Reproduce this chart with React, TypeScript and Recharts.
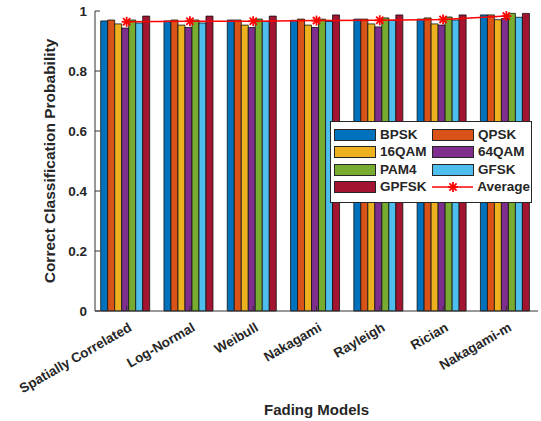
import React from "react";
import {
  Bar,
  ComposedChart,
  Legend,
  Line,
  XAxis,
  YAxis,
} from "recharts";

// fading models on the x axis
const categories = [
  "Spatially Correlated",
  "Log-Normal",
  "Weibull",
  "Nakagami",
  "Rayleigh",
  "Rician",
  "Nakagami-m",
];

// correct classification probability per modulation
const bpsk = [0.967, 0.967, 0.97, 0.969, 0.973, 0.973, 0.987];
const qpsk = [0.97, 0.97, 0.97, 0.973, 0.973, 0.977, 0.987];
const qam16 = [0.957, 0.953, 0.953, 0.953, 0.957, 0.957, 0.971];
const qam64 = [0.943, 0.945, 0.945, 0.945, 0.947, 0.953, 0.975];
const pam4 = [0.97, 0.97, 0.973, 0.973, 0.977, 0.98, 0.992];
const gfsk = [0.96, 0.96, 0.965, 0.965, 0.969, 0.97, 0.979];
const gpfsk = [0.983, 0.983, 0.983, 0.987, 0.987, 0.987, 0.992];
const average = [0.964, 0.966, 0.966, 0.968, 0.969, 0.972, 0.983];

const yTicks = [0, 0.2, 0.4, 0.6, 0.8, 1];

const series = [
  { key: "BPSK", values: bpsk, color: "#0072BD" },
  { key: "QPSK", values: qpsk, color: "#D95319" },
  { key: "16QAM", values: qam16, color: "#EDB120" },
  { key: "64QAM", values: qam64, color: "#7E2F8E" },
  { key: "PAM4", values: pam4, color: "#77AC30" },
  { key: "GFSK", values: gfsk, color: "#4DBEEE" },
  { key: "GPFSK", values: gpfsk, color: "#A2142F" },
];

const data = categories.map((name, i) => {
  const row: Record<string, string | number> = { name, Average: average[i] };
  series.forEach((s) => {
    row[s.key] = s.values[i];
  });
  return row;
});

const FONT = "'Liberation Sans', Arial, sans-serif";
const AXIS = "#333";
const TXT = "#262626";

const Star = ({ cx, cy, r = 5 }: { cx: number; cy: number; r?: number }) => {
  const d = r * 0.72;
  return (
    <g stroke="#ff0000" strokeWidth={1.8}>
      <line x1={cx - r} y1={cy} x2={cx + r} y2={cy} />
      <line x1={cx} y1={cy - r} x2={cx} y2={cy + r} />
      <line x1={cx - d} y1={cy - d} x2={cx + d} y2={cy + d} />
      <line x1={cx - d} y1={cy + d} x2={cx + d} y2={cy - d} />
    </g>
  );
};

const LeftTick = (props: any) => {
  const { x, y, payload } = props;
  return (
    <g>
      <line x1={x} y1={y} x2={x + 5} y2={y} stroke={AXIS} />
      <text
        x={x - 8}
        y={y}
        textAnchor="end"
        dominantBaseline="central"
        fontFamily={FONT}
        fontWeight="bold"
        fontSize={13.5}
        fill={TXT}
      >
        {payload.value}
      </text>
    </g>
  );
};

const RightTick = (props: any) => {
  const { x, y } = props;
  return <line x1={x} y1={y} x2={x - 5} y2={y} stroke={AXIS} />;
};

const BottomTick = (props: any) => {
  const { x, y, payload } = props;
  const tx = x + 6;
  const ty = y + 19;
  return (
    <g>
      <line x1={x} y1={y} x2={x} y2={y - 5} stroke={AXIS} />
      <text
        x={tx}
        y={ty}
        textAnchor="end"
        transform={`rotate(-30, ${tx}, ${ty})`}
        fontFamily={FONT}
        fontWeight="bold"
        fontSize={13.5}
        fill={TXT}
      >
        {payload.value}
      </text>
    </g>
  );
};

const TopTick = (props: any) => {
  const { x, y } = props;
  return <line x1={x} y1={y} x2={x} y2={y + 5} stroke={AXIS} />;
};

const LegendBox = () => {
  const rows = [
    [series[0], series[1]],
    [series[2], series[3]],
    [series[4], series[5]],
    [series[6], null],
  ];
  const label: React.CSSProperties = {
    fontFamily: FONT,
    fontWeight: "bold",
    fontSize: 13.5,
    color: TXT,
    marginLeft: 4,
    lineHeight: "14px",
  };
  const patch = (color: string) => (
    <div
      style={{
        width: 40,
        height: 10,
        background: color,
        border: "1px solid #262626",
      }}
    />
  );
  return (
    <div
      style={{
        width: 197,
        height: 76,
        border: "1px solid #262626",
        background: "#fff",
        padding: "4px 0 0 3px",
        boxSizing: "content-box",
      }}
    >
      {rows.map((row, i) => (
        <div key={i} style={{ display: "flex", height: 17.5, alignItems: "center" }}>
          {row.map((s, j) => (
            <div
              key={j}
              style={{ display: "flex", alignItems: "center", width: 98 }}
            >
              {s ? (
                <>
                  {patch(s.color)}
                  <span style={label}>{s.key}</span>
                </>
              ) : (
                <>
                  <svg width={42} height={12}>
                    <line x1={0} y1={6} x2={42} y2={6} stroke="#ff0000" strokeWidth={1.5} />
                    <Star cx={21} cy={6} />
                  </svg>
                  <span style={label}>Average</span>
                </>
              )}
            </div>
          ))}
        </div>
      ))}
    </div>
  );
};

export default function App() {
  return (
    <div style={{ position: "absolute", left: 0, top: 0, width: 541, height: 421, background: "#fff" }}>
      <ComposedChart
        width={541}
        height={421}
        data={data}
        margin={{ top: 11, right: 3, bottom: 0, left: 0 }}
        barCategoryGap="9%"
        barGap={0}
      >
        <XAxis
          dataKey="name"
          height={110}
          tickSize={0}
          tickMargin={0}
          tick={BottomTick}
          interval={0}
          axisLine={{ stroke: AXIS }}
          label={{
            value: "Fading Models",
            position: "insideBottom",
            offset: 6,
            fontFamily: FONT,
            fontWeight: "bold",
            fontSize: 15,
            fill: TXT,
          }}
        />
        <XAxis
          xAxisId="top"
          orientation="top"
          dataKey="name"
          height={0}
          tickSize={0}
          tickMargin={0}
          tick={TopTick}
          interval={0}
          axisLine={{ stroke: "#777" }}
        />
        <YAxis
          width={95}
          domain={[0, 1]}
          ticks={yTicks}
          tickSize={0}
          tickMargin={0}
          tick={LeftTick}
          axisLine={{ stroke: AXIS }}
          label={{
            value: "Correct Classification Probability",
            angle: -90,
            position: "insideLeft",
            dx: 44,
            dy: 0,
            style: { textAnchor: "middle" },
            fontFamily: FONT,
            fontWeight: "bold",
            fontSize: 15.5,
            fill: TXT,
          }}
        />
        <YAxis
          yAxisId="right"
          orientation="right"
          width={0}
          domain={[0, 1]}
          ticks={yTicks}
          tickSize={0}
          tickMargin={0}
          tick={RightTick}
          axisLine={{ stroke: "#777" }}
        />
        {series.map((s) => (
          <Bar
            key={s.key}
            dataKey={s.key}
            fill={s.color}
            stroke="#111"
            strokeWidth={0.8}
            isAnimationActive={false}
          />
        ))}
        <Line
          dataKey="Average"
          stroke="#ff0000"
          strokeWidth={1.5}
          dot={(p: any) => <Star key={p.index} cx={p.cx} cy={p.cy} />}
          activeDot={false}
          isAnimationActive={false}
        />
        <Legend
          layout="horizontal"
          align="center"
          verticalAlign="middle"
          wrapperStyle={{ left: 330, top: 121, width: 201, height: 81 }}
          content={() => <LegendBox />}
        />
      </ComposedChart>
    </div>
  );
}
